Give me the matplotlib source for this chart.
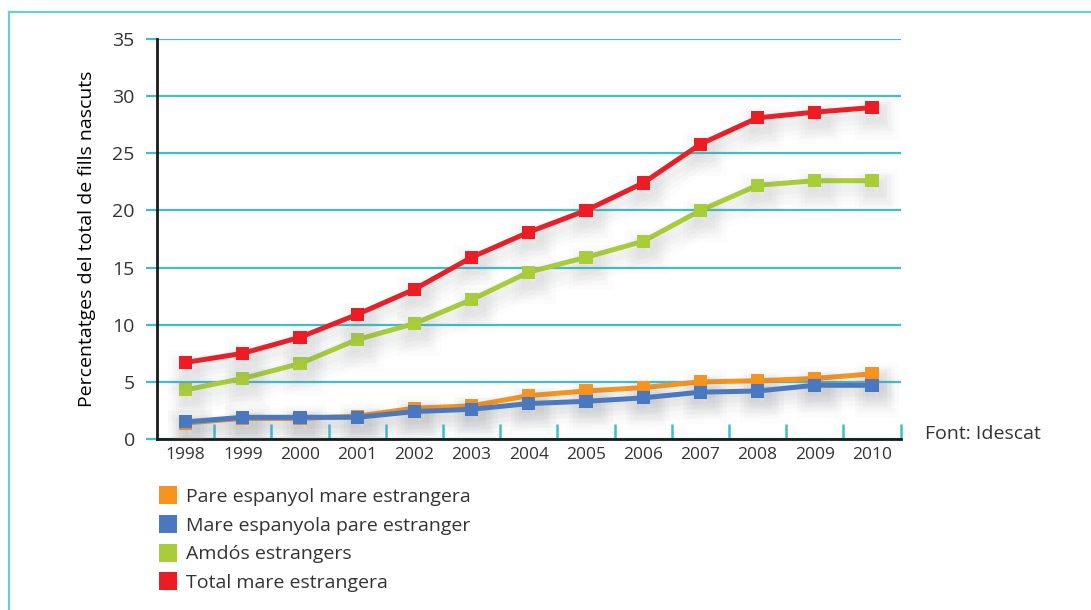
#%%
# Births to foreign mothers in Catalonia, 1998-2010

# IMPORTS #######################################

import matplotlib
matplotlib.use('Agg')
import matplotlib.pyplot as plt
import matplotlib.patheffects as pe
from matplotlib.lines import Line2D

# SETUP #########################################

plt.rcParams.update({
    'font.family': ['Open Sans', 'DejaVu Sans'],
    'font.size': 12,
    'text.color': '#333333',
})

TEAL = '#3FBFCC'
FRAME = '#6ACCD4'

# DATA ##########################################

years = ['1998', '1999', '2000', '2001', '2002', '2003', '2004',
         '2005', '2006', '2007', '2008', '2009', '2010']

pare_espanyol = [1.4, 1.8, 1.8, 2.0, 2.7, 2.9, 3.8, 4.2, 4.5, 5.0, 5.1, 5.3, 5.7]
mare_espanyola = [1.5, 1.9, 1.9, 1.9, 2.4, 2.6, 3.1, 3.3, 3.6, 4.1, 4.2, 4.7, 4.7]
amdos_estrangers = [4.3, 5.3, 6.6, 8.7, 10.1, 12.2, 14.6, 15.9, 17.3, 20.0, 22.2, 22.6, 22.6]
total_mare = [6.7, 7.5, 8.9, 10.9, 13.1, 15.9, 18.1, 20.0, 22.4, 25.8, 28.1, 28.6, 29.0]

labels = [
    'Pare espanyol mare estrangera',
    'Mare espanyola pare estranger',
    'Amdós estrangers',
    'Total mare estrangera',
]
colors = ['#F7941D', '#4A78C0', '#A8CD38', '#ED1C24']

# FIGURE ########################################

fig = plt.figure(figsize=(10.91, 6.10), dpi=100)
ax = fig.add_axes([0.1439, 0.2803, 0.6816, 0.6558])

# outer frame (top and left edges)
fig.add_artist(Line2D([9/1091, 1], [1 - 12/610, 1 - 12/610], color=FRAME, lw=1.6))
fig.add_artist(Line2D([9/1091, 9/1091], [0, 1 - 12/610], color=FRAME, lw=1.6))

x = list(range(len(years)))

# soft drop shadow under each line (stacked widths fake a blur)
shadow = [
    pe.SimpleLineShadow(offset=(3, -7), shadow_color='#8a8f98', alpha=0.025, linewidth=22),
    pe.SimpleLineShadow(offset=(3, -7), shadow_color='#8a8f98', alpha=0.03, linewidth=16),
    pe.SimpleLineShadow(offset=(3, -6), shadow_color='#8a8f98', alpha=0.035, linewidth=11),
    pe.SimpleLineShadow(offset=(3, -5), shadow_color='#8a8f98', alpha=0.04, linewidth=6),
    pe.Normal(),
]

series = [pare_espanyol, mare_espanyola, amdos_estrangers, total_mare]
for vals, col, lab in zip(series, colors, labels):
    ax.plot(
        x, vals,
        color=col,
        linewidth=3.6,
        marker='s',
        markersize=9.5,
        markeredgewidth=0,
        label=lab,
        path_effects=shadow,
        zorder=3,
        solid_joinstyle='miter',
    )

# AXES ##########################################

ax.set_xlim(-0.5, 12.5)
ax.set_ylim(0, 35)
ax.set_yticks(range(0, 36, 5))
ax.set_xticks(x)
ax.set_xticklabels(years)
ax.set_xticks([i + 0.5 for i in x], minor=True)

ax.grid(which='major', axis='y', color=TEAL, linewidth=1.6, zorder=0)
ax.set_axisbelow(True)

ax.tick_params(axis='y', which='major', direction='out', length=8, width=1.6,
               color=TEAL, labelsize=14, pad=8, labelcolor='#333333')
ax.tick_params(axis='x', which='major', length=0, labelsize=12.5, pad=6,
               labelcolor='#333333')
ax.tick_params(axis='x', which='minor', direction='in', length=11, width=1.8,
               color=TEAL)

for side in ['top', 'right']:
    ax.spines[side].set_visible(False)
ax.spines['left'].set_linewidth(2)
ax.spines['bottom'].set_linewidth(2)
ax.spines['left'].set_color('#1a1a1a')
ax.spines['bottom'].set_color('#1a1a1a')

ax.set_ylabel('Percentatges del total de fills nascuts', fontsize=14, labelpad=12)

fig.text(925/1091, 1 - 434/610, 'Font: Idescat', fontsize=14, va='center', ha='left')

# LEGEND ########################################

handles = [
    Line2D([], [], linestyle='none', marker='s', markersize=13,
           markerfacecolor=c, markeredgewidth=0)
    for c in colors
]
fig.legend(
    handles, labels,
    loc='upper left',
    bbox_to_anchor=(159/1091, 1 - 488/610),
    frameon=False,
    fontsize=14,
    handlelength=0.9,
    handletextpad=0.5,
    labelspacing=0.55,
    borderpad=0,
    borderaxespad=0,
)

fig.savefig('out.png', dpi=100)
# %%
